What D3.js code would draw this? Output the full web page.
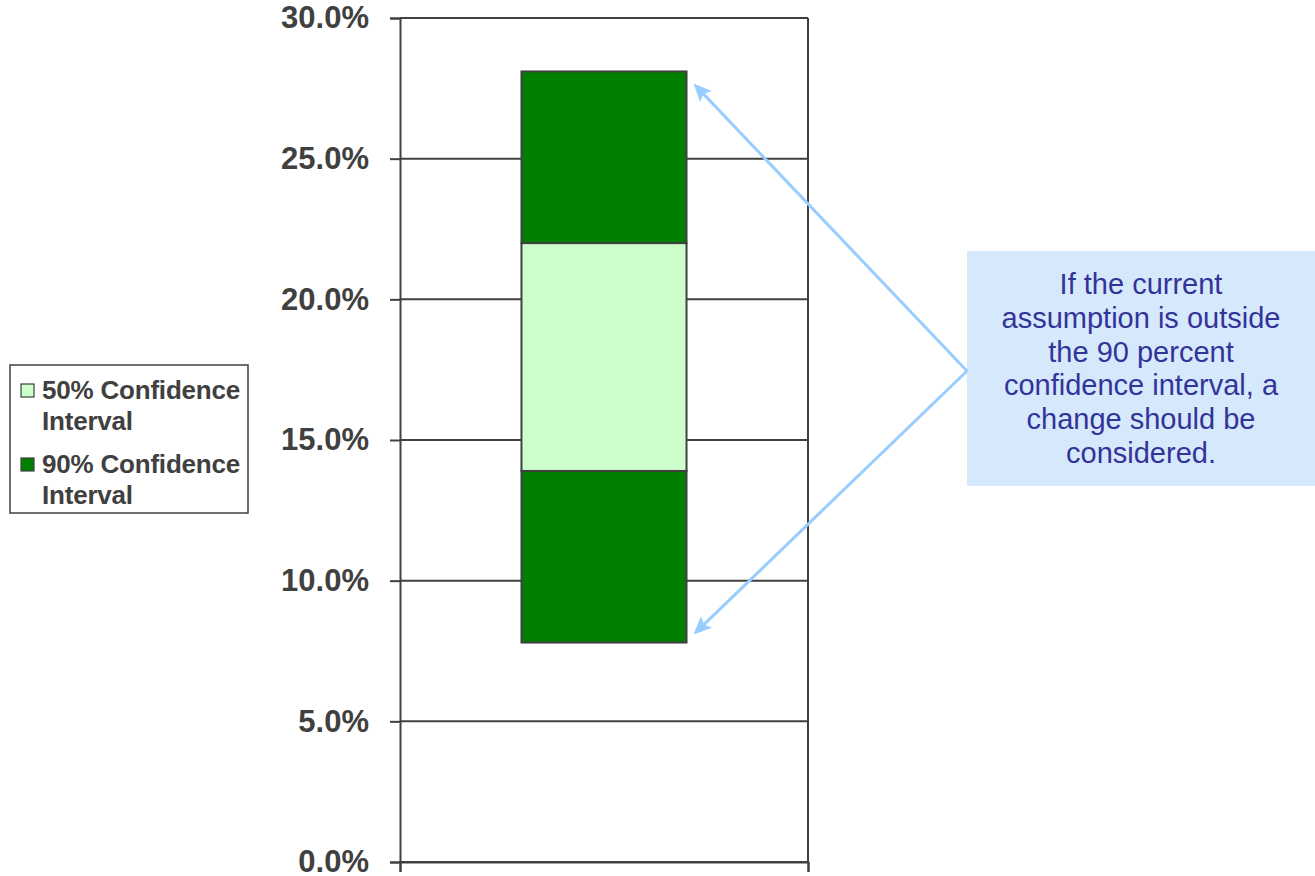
<!DOCTYPE html>
<html>
<head>
<meta charset="utf-8">
<script src="https://cdn.jsdelivr.net/npm/d3@7"></script>
<style>
  html, body { margin: 0; padding: 0; background: #fff; }
  svg { display: block; }
</style>
</head>
<body>
<svg id="chart" width="1315" height="876"></svg>
<script>
// Confidence interval bounds (percent)
const categories = [""];
const lower90 = [7.8];
const lower50 = [13.9];
const upper50 = [22.0];
const upper90 = [28.1];
const yTicks = [0, 5, 10, 15, 20, 25, 30];
const legendLabels = [["50% Confidence", "Interval"], ["90% Confidence", "Interval"]];
const noteLines = ["If the current", "assumption is outside", "the 90 percent",
                   "confidence interval, a", "change should be", "considered."];

const axisColor = "#404040";
const light = "#CCFFCC", dark = "#008000";
const arrowColor = "#99CCFF";

const svg = d3.select("#chart");
const plot = { left: 400, right: 808, top: 18, bottom: 862 };

const y = d3.scaleLinear().domain([0, 30]).range([plot.bottom, plot.top]);
const x = d3.scaleBand().domain(categories).range([plot.left, plot.right]).padding(0.424);

// gridlines
svg.append("g").selectAll("line").data(yTicks).join("line")
  .attr("x1", plot.left).attr("x2", plot.right)
  .attr("y1", d => y(d)).attr("y2", d => y(d))
  .attr("stroke", axisColor).attr("stroke-width", 2);

// right border
svg.append("line").attr("x1", plot.right).attr("x2", plot.right)
  .attr("y1", plot.top).attr("y2", plot.bottom)
  .attr("stroke", axisColor).attr("stroke-width", 2);

// y axis
const yAxis = d3.axisLeft(y).tickValues(yTicks).tickSize(10).tickPadding(21)
  .tickFormat(d => d3.format(".1f")(d) + "%");
const gy = svg.append("g").attr("transform", `translate(${plot.left},0)`).call(yAxis);
gy.select(".domain").attr("stroke", axisColor).attr("stroke-width", 2);
gy.selectAll(".tick line").attr("stroke", axisColor).attr("stroke-width", 2);
gy.selectAll(".tick text")
  .attr("fill", axisColor)
  .style("font-family", "'Liberation Sans', Arial, sans-serif")
  .style("font-weight", "bold").style("font-size", "31px");

// category axis
const xAxisScale = d3.scalePoint().domain(["a", "b"]).range([plot.left, plot.right]);
const gx = svg.append("g").attr("transform", `translate(0,${plot.bottom})`)
  .call(d3.axisBottom(xAxisScale).tickSize(10).tickFormat(""));
gx.select(".domain").attr("stroke", axisColor).attr("stroke-width", 2);
gx.selectAll(".tick line").attr("stroke", axisColor).attr("stroke-width", 2);

// interval segments
const segments = [];
categories.forEach((c, i) => {
  segments.push({ c, lo: lower90[i], hi: lower50[i], fill: dark });
  segments.push({ c, lo: lower50[i], hi: upper50[i], fill: light });
  segments.push({ c, lo: upper50[i], hi: upper90[i], fill: dark });
});
svg.append("g").selectAll("rect").data(segments).join("rect")
  .attr("x", d => x(d.c))
  .attr("width", x.bandwidth())
  .attr("y", d => y(d.hi))
  .attr("height", d => y(d.lo) - y(d.hi))
  .attr("fill", d => d.fill)
  .attr("stroke", axisColor).attr("stroke-width", 2);

// legend
const lg = svg.append("g");
lg.append("rect").attr("x", 10).attr("y", 365).attr("width", 238).attr("height", 148)
  .attr("fill", "#fff").attr("stroke", axisColor).attr("stroke-width", 1.5);
[light, dark].forEach((col, i) => {
  const by = 399 + i * 74;
  lg.append("rect").attr("x", 21).attr("y", by - 15).attr("width", 13).attr("height", 13)
    .attr("fill", col).attr("stroke", axisColor).attr("stroke-width", 1.2);
  const t = lg.append("text").attr("x", 42).attr("y", by)
    .attr("fill", axisColor)
    .style("font-family", "'Liberation Sans', Arial, sans-serif")
    .style("font-weight", "bold").style("font-size", "26px").style("letter-spacing", "-0.2px");
  legendLabels[i].forEach((s, j) => {
    t.append("tspan").attr("x", 42).attr("y", by + j * 31).text(s);
  });
});

// callout box
const box = { x: 967, y: 251, w: 350, h: 235 };
svg.append("rect").attr("x", box.x).attr("y", box.y).attr("width", box.w).attr("height", box.h)
  .attr("fill", "#D6E8FC");
const note = svg.append("text")
  .attr("fill", "#333399").attr("text-anchor", "middle")
  .style("font-family", "'Liberation Sans', Arial, sans-serif").style("font-size", "29px");
noteLines.forEach((s, i) => {
  note.append("tspan").attr("x", 1141).attr("y", 294 + i * 33.8).text(s);
});

// arrows from callout to the 90% interval ends
const origin = [box.x, 371];
const i0 = 0;
const tips = [
  [x(categories[i0]) + x.bandwidth() + 7, y(upper90[i0]) + 12],
  [x(categories[i0]) + x.bandwidth() + 7, y(lower90[i0]) - 8]
];
tips.forEach(tp => {
  const dx = tp[0] - origin[0], dy = tp[1] - origin[1];
  const len = Math.hypot(dx, dy);
  const ux = dx / len, uy = dy / len;
  const headLen = 18, headW = 8;
  const bx = tp[0] - ux * headLen, by = tp[1] - uy * headLen;
  svg.append("line").attr("x1", origin[0]).attr("y1", origin[1])
    .attr("x2", tp[0] - ux * headLen * 0.8).attr("y2", tp[1] - uy * headLen * 0.8)
    .attr("stroke", arrowColor).attr("stroke-width", 3);
  svg.append("path")
    .attr("d", d3.line()([
      tp,
      [bx - uy * headW, by + ux * headW],
      [tp[0] - ux * headLen * 0.8, tp[1] - uy * headLen * 0.8],
      [bx + uy * headW, by - ux * headW]
    ]) + "Z")
    .attr("fill", arrowColor);
});
</script>
</body>
</html>
